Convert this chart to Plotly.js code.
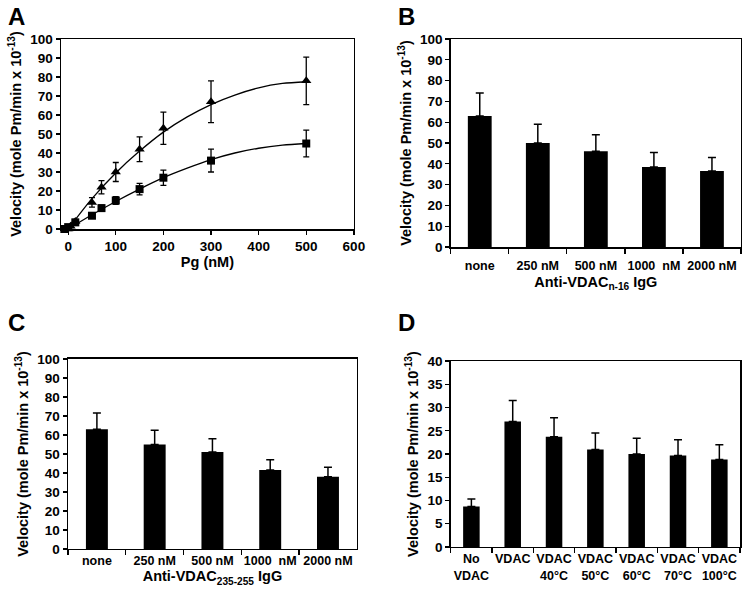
<!DOCTYPE html>
<html><head><meta charset="utf-8">
<script src="https://cdn.plot.ly/plotly-3.0.1.min.js"></script>
<style>body{margin:0;padding:0;background:#fff}#chart{width:745px;height:591px}</style>
</head><body><div id="chart"></div>
<script>
// Panel A data
var triX = [0, 5, 15, 50, 70, 100, 150, 200, 300, 500];
var triY = [0, 1.5, 4, 14, 22, 30, 42, 53, 67, 78];
var triErr = [0.5, 0.8, 1, 2.5, 3.5, 5, 6.5, 8.5, 11, 12.5];
var sqX = [-8, 0, 15, 50, 70, 100, 150, 200, 300, 500];
var sqY = [0, 1, 3.5, 7, 11, 15, 21, 27, 36, 45];
var sqErr = [0.5, 0.5, 1, 1, 1.5, 2, 3, 4, 6, 7];
var fitX = [0, 50, 100, 150, 200, 250, 300, 350, 400, 450, 500];
var triFit = [0, 16, 29.5, 41, 51, 59, 65.5, 70.5, 74.3, 76.6, 77.5];
var sqFit = [0, 7.5, 14.5, 21, 27, 32, 36.5, 40, 42.5, 44.1, 45];

// Panel B data
var catB = ["none", "250 nM", "500 nM", "1000  nM", "2000 nM"];
var valB = [63, 50, 46, 38.5, 36.5];
var errB = [11, 9, 8, 7, 6.5];

// Panel C data
var catC = ["none", "250 nM", "500 nM", "1000  nM", "2000 nM"];
var valC = [63, 55, 51, 41.5, 38];
var errC = [8.5, 7.5, 7, 5.5, 5];

// Panel D data
var catD = ["No<br>VDAC", "VDAC", "VDAC<br>40°C", "VDAC<br>50°C", "VDAC<br>60°C", "VDAC<br>70°C", "VDAC<br>100°C"];
var valD = [8.7, 27, 23.7, 21, 20, 19.7, 18.8];
var errD = [1.6, 4.5, 4.1, 3.5, 3.4, 3.4, 3.2];

var F = 'Liberation Sans, Arial, sans-serif';
var tickF = {family: F, size: 13.5, color: '#000', weight: 'bold'};
var catF = {family: F, size: 12.5, color: '#000', weight: 'bold'};
var titleF = {family: F, size: 14.5, color: '#000', weight: 'bold'};
var yTitle = 'Velocity (mole Pm/min x 10<sup>-13</sup>)';

function zeros(n){ var a=[]; for(var i=0;i<n;i++) a.push(0); return a; }

var traces = [
  {x: fitX, y: triFit, mode: 'lines', line: {color: '#000', width: 1.3, shape: 'spline', smoothing: 0.8}, xaxis: 'x', yaxis: 'y', hoverinfo: 'skip'},
  {x: fitX, y: sqFit, mode: 'lines', line: {color: '#000', width: 1.3, shape: 'spline', smoothing: 0.8}, xaxis: 'x', yaxis: 'y', hoverinfo: 'skip'},
  {x: triX, y: triY, mode: 'markers', marker: {symbol: 'triangle-up', size: 9, color: '#000'}, cliponaxis: false,
   error_y: {type: 'data', array: triErr, visible: true, color: '#000', thickness: 1.3, width: 3}, xaxis: 'x', yaxis: 'y'},
  {x: sqX, y: sqY, mode: 'markers', marker: {symbol: 'square', size: 8, color: '#000'}, cliponaxis: false,
   error_y: {type: 'data', array: sqErr, visible: true, color: '#000', thickness: 1.3, width: 3}, xaxis: 'x', yaxis: 'y'},
  {type: 'bar', x: catB, y: valB, marker: {color: '#000'}, width: 0.41,
   error_y: {type: 'data', array: errB, arrayminus: zeros(5), symmetric: false, visible: true, color: '#000', thickness: 1.5, width: 4}, xaxis: 'x2', yaxis: 'y2'},
  {type: 'bar', x: catC, y: valC, marker: {color: '#000'}, width: 0.38,
   error_y: {type: 'data', array: errC, arrayminus: zeros(5), symmetric: false, visible: true, color: '#000', thickness: 1.5, width: 4}, xaxis: 'x3', yaxis: 'y3'},
  {type: 'bar', x: catD, y: valD, marker: {color: '#000'}, width: 0.4,
   error_y: {type: 'data', array: errD, arrayminus: zeros(7), symmetric: false, visible: true, color: '#000', thickness: 1.5, width: 4}, xaxis: 'x4', yaxis: 'y4'}
];

function yax(domain, range, dtick, anchor) {
  return {domain: domain, range: range, dtick: dtick, anchor: anchor, showgrid: false, zeroline: false,
    showline: true, mirror: true, linecolor: '#000', linewidth: 1.5, ticks: 'outside', ticklen: 4, tickwidth: 1.3,
    tickcolor: '#000', tickfont: tickF, title: {text: yTitle, font: titleF, standoff: 5}};
}
function xcat(domain, anchor, title, lblOff, titleOff) {
  return {domain: domain, anchor: anchor, type: 'category', showgrid: false, zeroline: false, showline: true, mirror: true,
    linecolor: '#000', linewidth: 1.5, ticks: 'outside', ticklen: 5, tickwidth: 1.3, tickcolor: '#000',
    tickson: 'boundaries', tickfont: catF, tickangle: 0, ticklabelstandoff: lblOff, automargin: false,
    title: title ? {text: title, font: titleF, standoff: titleOff} : undefined};
}

var layout = {
  width: 745, height: 591, margin: {l: 0, r: 0, t: 0, b: 0}, showlegend: false,
  paper_bgcolor: '#fff', plot_bgcolor: '#fff',
  xaxis: {domain: [0.0819, 0.475], range: [-15, 600], dtick: 100, anchor: 'y', showgrid: false, zeroline: false,
    showline: true, mirror: true, linecolor: '#000', linewidth: 1.5, ticks: 'outside', ticklen: 4, tickwidth: 1.3,
    tickcolor: '#000', tickfont: tickF, tickangle: 0, title: {text: 'Pg (nM)', font: titleF, standoff: 2}},
  yaxis: yax([0.6125, 0.934], [0, 100], 10, 'x'),
  xaxis2: xcat([0.605, 0.9946], 'y2', 'Anti-VDAC<sub>n-16</sub> IgG', 6, 5),
  yaxis2: yax([0.582, 0.934], [0, 100], 10, 'x2'),
  xaxis3: xcat([0.0913, 0.479], 'y3', 'Anti-VDAC<sub>235-255</sub> IgG', 0, 0),
  yaxis3: yax([0.0711, 0.3926], [0, 100], 10, 'x3'),
  xaxis4: xcat([0.605, 0.9933], 'y4', null, 0, 0),
  yaxis4: yax([0.0745, 0.389], [0, 40], 5, 'x4'),
  annotations: [
    {text: 'A', x: 0.008, y: 0.998, xref: 'paper', yref: 'paper', xanchor: 'left', yanchor: 'top', showarrow: false, font: {family: F, size: 24, weight: 'bold', color: '#000'}},
    {text: 'B', x: 0.532, y: 0.998, xref: 'paper', yref: 'paper', xanchor: 'left', yanchor: 'top', showarrow: false, font: {family: F, size: 24, weight: 'bold', color: '#000'}},
    {text: 'C', x: 0.008, y: 0.48, xref: 'paper', yref: 'paper', xanchor: 'left', yanchor: 'top', showarrow: false, font: {family: F, size: 24, weight: 'bold', color: '#000'}},
    {text: 'D', x: 0.532, y: 0.48, xref: 'paper', yref: 'paper', xanchor: 'left', yanchor: 'top', showarrow: false, font: {family: F, size: 24, weight: 'bold', color: '#000'}}
  ]
};
Plotly.newPlot('chart', traces, layout, {staticPlot: true});
</script></body></html>
